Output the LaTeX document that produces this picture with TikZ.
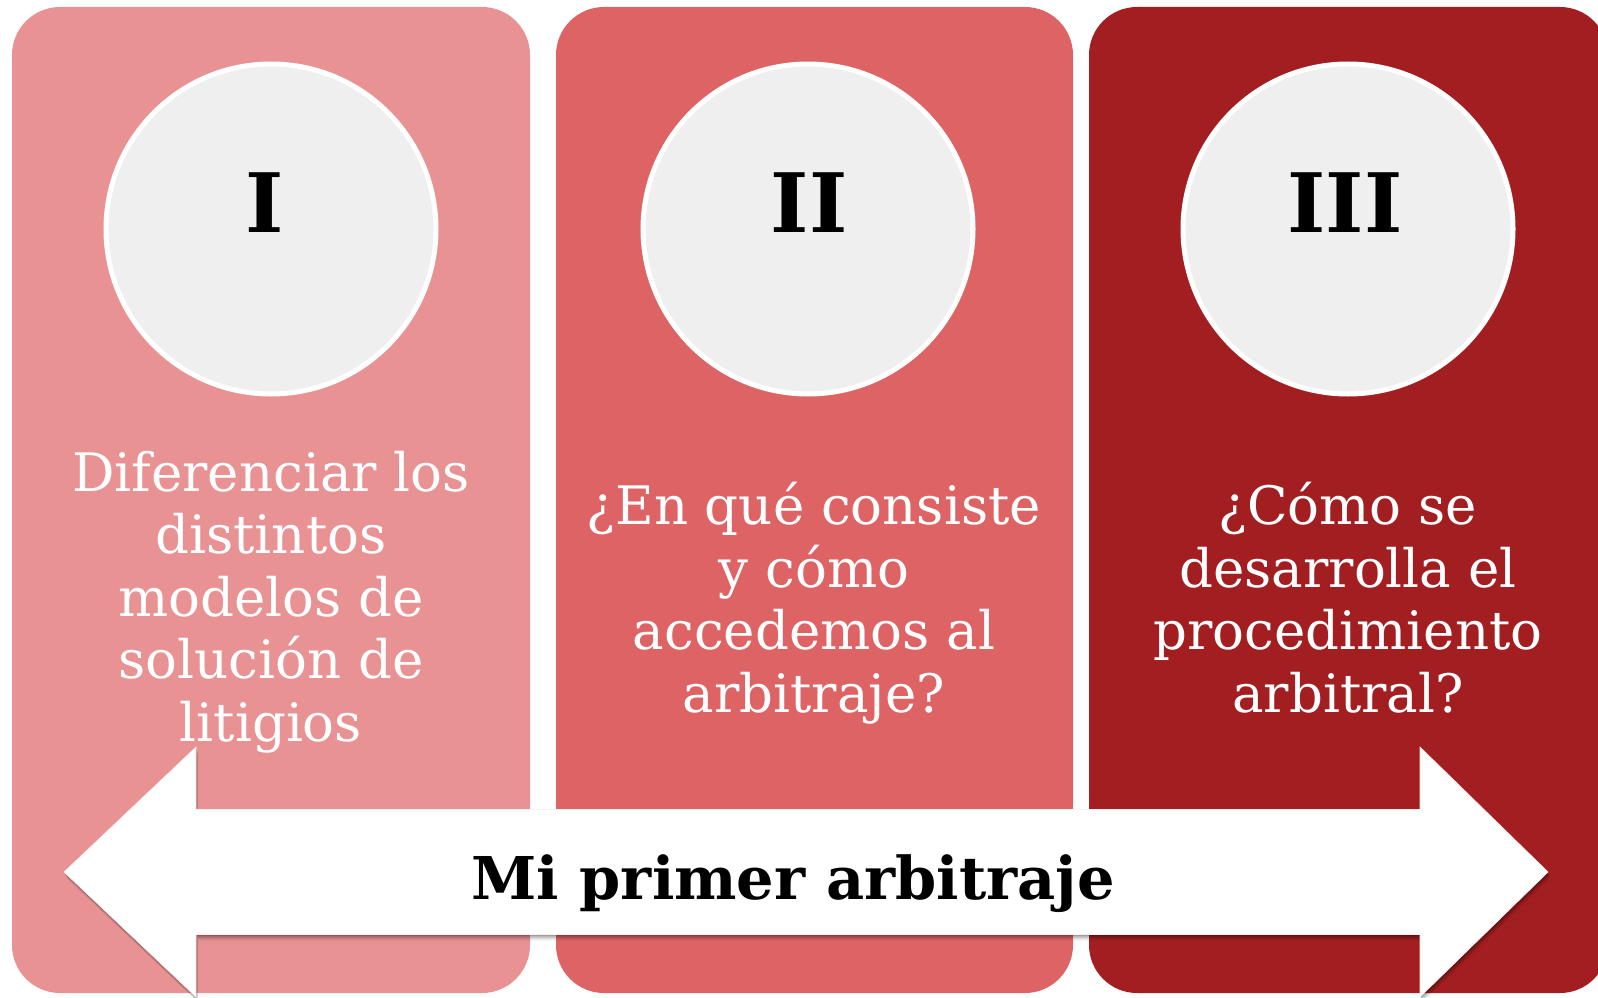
\documentclass[tikz,border=0pt]{standalone}
\usepackage{fontspec}
\setmainfont{DejaVu Serif}
\definecolor{pone}{RGB}{232,146,148}
\definecolor{ptwo}{RGB}{222,99,100}
\definecolor{pthree}{RGB}{162,30,33}
\definecolor{discgray}{RGB}{239,239,239}
\begin{document}
\begin{tikzpicture}[x=1pt,y=-1pt,
  panel/.style={rounded corners=48pt},
  disc/.style={circle, fill=discgray, draw=white, line width=5pt, minimum size=330pt, inner sep=0pt},
  numeral/.style={font=\fontsize{82}{82}\selectfont\bfseries, text=black, anchor=base, inner sep=0pt},
  body/.style={font=\fontsize{53}{62.5}\selectfont, text=white, align=center, anchor=base, inner sep=0pt},
  title/.style={font=\fontsize{59}{59}\selectfont\bfseries, text=black, anchor=base, inner sep=0pt},
]
\useasboundingbox (0,0) rectangle (1598,998);
% panels
\fill[pone, panel] (12,7) rectangle (530,993);
\fill[ptwo, panel] (556,7) rectangle (1073,993);
\fill[pthree, panel] (1089,7) rectangle (1608,993);
% discs
\node[disc] (c1) at (271,229) {};
\node[disc] (c2) at (808,229) {};
\node[disc] (c3) at (1348,229) {};
\node[numeral] (n1) at (265,232) {I};
\node[numeral] (n2) at (809,232) {II};
\node[numeral] (n3) at (1345,232) {III};
% texts (base anchor = baseline of the last line)
\node[body] (t1) at (271,741) {Diferenciar los\\distintos\\modelos de\\solución de\\litigios};
\node[body] (t2) at (814,712) {¿En qué consiste\\y cómo\\accedemos al\\arbitraje?};
\node[body] (t3) at (1348,712) {¿Cómo se\\desarrolla el\\procedimiento\\arbitral?};
% arrow with soft shadow
\def\arrowpath{(64,872) -- (196,747) -- (196,809.5) -- (1420,809.5) -- (1420,747) -- (1548,872) -- (1420,997) -- (1420,934.5) -- (196,934.5) -- (196,997) -- cycle}
\foreach \d/\o in {6/0.06,4.5/0.09,3/0.13,1.5/0.17}{
  \fill[black, opacity=\o, shift={(\d*0.4,\d)}] \arrowpath;
}
\fill[white] \arrowpath;
\draw[white!85!pone, line width=0.6pt] \arrowpath;
\node[title] (lbl) at (793,899) {Mi primer arbitraje};
\end{tikzpicture}
\end{document}
